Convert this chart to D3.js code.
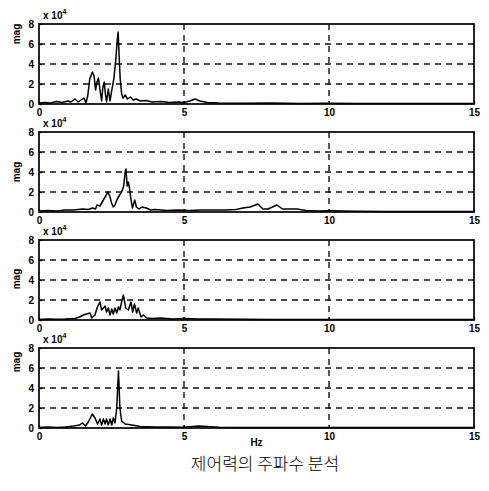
<!DOCTYPE html>
<html>
<head>
<meta charset="utf-8">
<script src="https://cdn.jsdelivr.net/npm/d3@7"></script>
<style>
  html, body { margin: 0; padding: 0; background: #fff; }
  svg { display: block; }
  .tick-label { font-family: "Liberation Sans", Arial, sans-serif; font-weight: bold; font-size: 10px; fill: #000; }
  .caption { font-family: "Noto Sans CJK KR", sans-serif; font-weight: 300; font-size: 17px; fill: #000; }
</style>
</head>
<body>
<div id="chart"></div>
<script>
// frequency spectra of the control force, magnitude in units of 1e4
var X_TICKS = [0, 5, 10, 15];
var Y_TICKS = [0, 2, 4, 6, 8];

var freq1 = [0, 0.2, 0.4, 0.6, 0.8, 1.0, 1.1, 1.24, 1.35, 1.45, 1.55, 1.62, 1.68, 1.75, 1.84, 1.9, 1.95, 2.0, 2.05, 2.1, 2.16, 2.2, 2.25, 2.29, 2.33, 2.39, 2.45, 2.5, 2.58, 2.65, 2.7, 2.73, 2.76, 2.8, 2.85, 2.9, 2.97, 3.05, 3.15, 3.25, 3.35, 3.5, 3.7, 3.9, 4.2, 4.5, 4.8, 5.0, 5.2, 5.38, 5.55, 5.8, 6.2, 7, 8, 9, 10, 11, 12, 13, 14, 15];
var mag1  = [0.1, 0.15, 0.1, 0.25, 0.15, 0.3, 0.2, 0.5, 0.2, 0.4, 0.6, 0.1, 0.8, 2.5, 3.2, 2.8, 1.4, 2.2, 2.6, 1.5, 0.3, 1.6, 2.2, 1.0, 0.2, 1.5, 0.3, 1.2, 2.5, 4.5, 6.5, 7.2, 5.0, 2.5, 1.0, 0.6, 0.9, 0.5, 0.7, 0.4, 0.5, 0.3, 0.35, 0.2, 0.25, 0.15, 0.2, 0.15, 0.3, 0.5, 0.3, 0.15, 0.1, 0.08, 0.1, 0.05, 0.08, 0.05, 0.05, 0.05, 0.05, 0.05];

var freq2 = [0, 0.3, 0.6, 0.9, 1.2, 1.5, 1.7, 1.85, 1.95, 2.0, 2.1, 2.2, 2.3, 2.38, 2.45, 2.5, 2.56, 2.62, 2.7, 2.78, 2.85, 2.92, 2.97, 3.0, 3.04, 3.08, 3.12, 3.16, 3.22, 3.3, 3.36, 3.45, 3.55, 3.7, 3.85, 4.0, 4.4, 4.8, 5.2, 5.6, 6.0, 6.4, 6.8, 7.03, 7.28, 7.55, 7.72, 7.9, 8.2, 8.4, 8.9, 9.2, 9.6, 10, 11, 12, 13, 14, 15];
var mag2  = [0.1, 0.15, 0.1, 0.2, 0.2, 0.3, 0.25, 0.4, 0.3, 0.7, 0.6, 1.1, 1.6, 2.0, 1.5, 0.9, 0.5, 0.7, 1.3, 1.7, 2.0, 2.6, 4.0, 4.3, 2.6, 3.0, 2.4, 1.5, 0.4, 1.2, 0.5, 0.3, 0.5, 0.4, 0.2, 0.25, 0.15, 0.2, 0.15, 0.2, 0.2, 0.2, 0.25, 0.4, 0.5, 0.8, 0.3, 0.3, 0.7, 0.3, 0.3, 0.15, 0.1, 0.12, 0.08, 0.06, 0.05, 0.05, 0.05];

var freq3 = [0, 0.3, 0.6, 0.9, 1.24, 1.4, 1.53, 1.64, 1.76, 1.82, 1.93, 2.0, 2.1, 2.16, 2.22, 2.28, 2.33, 2.39, 2.45, 2.51, 2.56, 2.62, 2.68, 2.74, 2.79, 2.85, 2.91, 2.99, 3.08, 3.17, 3.23, 3.29, 3.37, 3.42, 3.52, 3.6, 3.71, 3.9, 4.2, 4.6, 5.0, 5.5, 6, 7, 8, 9, 10, 11, 12, 13, 14, 15];
var mag3  = [0.05, 0.1, 0.08, 0.1, 0.15, 0.3, 0.5, 0.6, 0.7, 0.2, 0.5, 1.2, 1.8, 1.0, 1.2, 1.4, 0.8, 1.2, 0.5, 1.1, 0.6, 1.2, 0.7, 1.3, 1.0, 1.8, 2.5, 1.2, 1.0, 1.8, 0.8, 1.6, 0.7, 1.2, 0.3, 0.5, 0.2, 0.15, 0.2, 0.1, 0.15, 0.1, 0.1, 0.08, 0.06, 0.05, 0.05, 0.05, 0.04, 0.04, 0.04, 0.04];

var freq4 = [0, 0.3, 0.6, 0.9, 1.2, 1.4, 1.5, 1.6, 1.7, 1.84, 1.93, 2.02, 2.1, 2.16, 2.22, 2.28, 2.33, 2.39, 2.45, 2.51, 2.56, 2.62, 2.68, 2.74, 2.79, 2.85, 2.97, 3.2, 3.5, 4.0, 4.5, 5.0, 5.5, 5.8, 6.2, 7, 8, 9, 10, 11, 12, 13, 14, 15];
var mag4  = [0.05, 0.1, 0.05, 0.1, 0.2, 0.3, 0.5, 0.2, 0.6, 1.4, 1.0, 0.4, 0.9, 0.3, 0.9, 0.4, 0.9, 0.3, 0.9, 0.3, 1.0, 0.5, 2.0, 5.7, 2.0, 0.7, 0.4, 0.3, 0.15, 0.1, 0.1, 0.08, 0.2, 0.15, 0.08, 0.05, 0.05, 0.04, 0.04, 0.04, 0.04, 0.04, 0.04, 0.04];

var SERIES = [
  { freq: freq1, mag: mag1 },
  { freq: freq2, mag: mag2 },
  { freq: freq3, mag: mag3 },
  { freq: freq4, mag: mag4 }
];

var X_LABEL = 'Hz';
var Y_LABEL = 'mag';
var CAPTION = '제어력의 주파수 분석';

(function() {
  var W = 489, H = 491;
  var left = 39, right = 474;
  var panelTop = 24, panelH = 80, panelStep = 108;
  // the scanned figure has the 'mag' label at slightly different heights
  var magLabelY = [34, 172, 279, 362];

  var svg = d3.select('#chart').append('svg')
    .attr('width', W)
    .attr('height', H);

  var x = d3.scaleLinear().domain([0, 15]).range([left, right]);

  SERIES.forEach(function(s, i) {
    var top = panelTop + i * panelStep;
    var bottom = top + panelH;
    var y = d3.scaleLinear().domain([0, 8]).range([bottom, top]);
    var g = svg.append('g');

    // dashed grid
    g.append('g').selectAll('line.hgrid')
      .data(Y_TICKS.filter(function(t) { return t > 0 && t < 8; }))
      .join('line')
      .attr('x1', left).attr('x2', right)
      .attr('y1', function(d) { return y(d); })
      .attr('y2', function(d) { return y(d); })
      .attr('stroke', '#111')
      .attr('stroke-width', 1.4)
      .attr('stroke-dasharray', '6,5');
    g.append('g').selectAll('line.vgrid')
      .data(X_TICKS.filter(function(t) { return t > 0 && t < 15; }))
      .join('line')
      .attr('x1', function(d) { return x(d); })
      .attr('x2', function(d) { return x(d); })
      .attr('y1', top).attr('y2', bottom)
      .attr('stroke', '#111')
      .attr('stroke-width', 1.4)
      .attr('stroke-dasharray', '6,5');

    // spectrum line
    var pts = s.freq.map(function(f, k) { return [f, s.mag[k]]; });
    g.append('path')
      .datum(pts)
      .attr('fill', 'none')
      .attr('stroke', '#000')
      .attr('stroke-width', 1.5)
      .attr('stroke-linejoin', 'round')
      .attr('d', d3.line()
        .x(function(d) { return x(d[0]); })
        .y(function(d) { return y(d[1]); }));

    // axes with inward ticks, drawn with d3-axis
    var xAxis = g.append('g')
      .attr('transform', 'translate(0,' + bottom + ')')
      .call(d3.axisBottom(x).tickValues(X_TICKS).tickSizeInner(-3).tickSizeOuter(0).tickPadding(5));
    var yAxis = g.append('g')
      .attr('transform', 'translate(' + left + ',0)')
      .call(d3.axisLeft(y).tickValues(Y_TICKS).tickSizeInner(-3).tickSizeOuter(0).tickPadding(5));
    [xAxis, yAxis].forEach(function(a) {
      a.select('.domain').remove();
      a.selectAll('line').attr('stroke', '#000').attr('stroke-width', 1.2);
      a.selectAll('text').attr('class', 'tick-label').attr('fill', '#000');
    });

    // box
    g.append('rect')
      .attr('x', left).attr('y', top)
      .attr('width', right - left).attr('height', panelH)
      .attr('fill', 'none')
      .attr('stroke', '#000')
      .attr('stroke-width', 1.7);

    // exponent label, nudged right so it clears the "0" tick of the panel above
    var ex = g.append('text')
      .attr('class', 'tick-label')
      .attr('font-size', '11px')
      .attr('x', left + 4)
      .attr('y', top - 5);
    ex.append('tspan').text('x 10');
    ex.append('tspan').attr('dy', -5).attr('font-size', '7px').text('4');

    g.append('text')
      .attr('class', 'tick-label')
      .attr('text-anchor', 'middle')
      .attr('transform', 'translate(20,' + magLabelY[i] + ') rotate(-90)')
      .text(Y_LABEL);
  });

  var lastBottom = panelTop + 3 * panelStep + panelH;
  svg.append('text')
    .attr('class', 'tick-label')
    .attr('text-anchor', 'middle')
    .attr('font-size', '8px')
    .attr('x', x(7.5))
    .attr('y', lastBottom + 18)
    .text(X_LABEL);

  svg.append('text')
    .attr('class', 'caption')
    .attr('text-anchor', 'middle')
    .attr('x', 265)
    .attr('y', lastBottom + 42)
    .text(CAPTION);
})();
</script>
</body>
</html>
